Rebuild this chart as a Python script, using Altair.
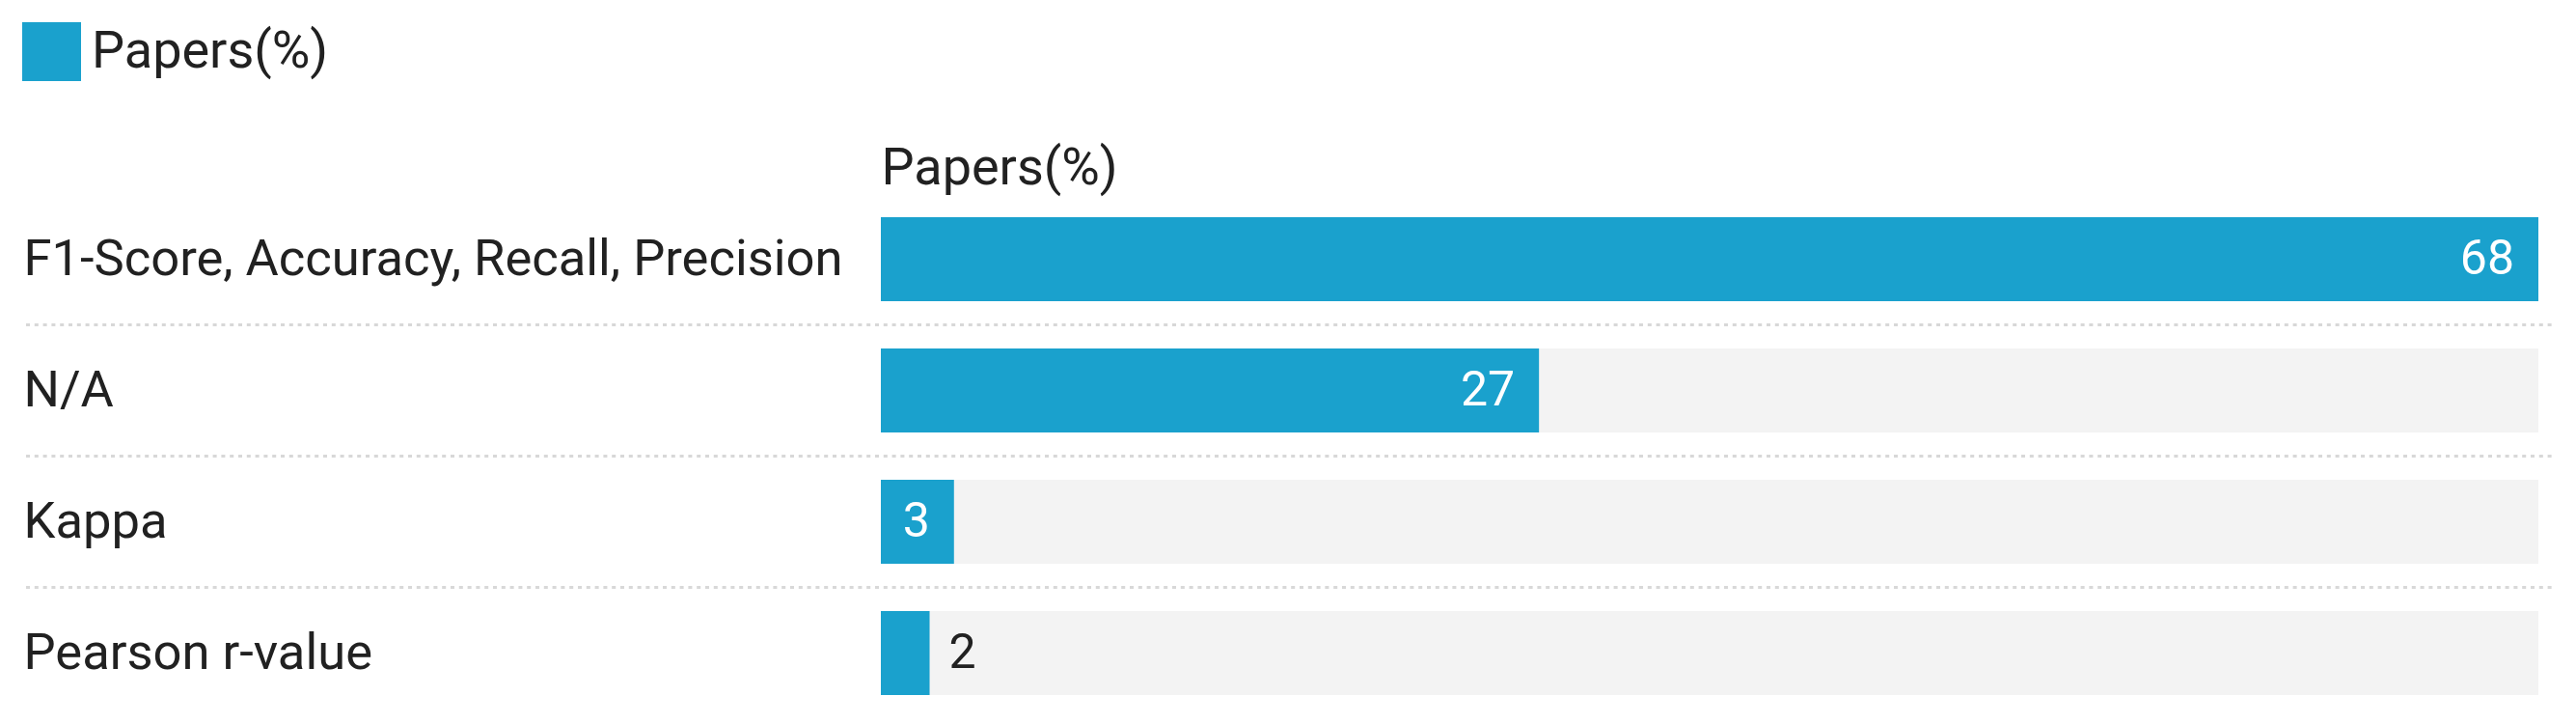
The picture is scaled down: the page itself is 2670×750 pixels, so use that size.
import altair as alt
import pandas as pd

categories = ["F1-Score, Accuracy, Recall, Precision", "N/A", "Kappa", "Pearson r-value"]
values = [68, 27, 3, 2]
series_name = "Papers(%)"

BLUE = "#1aa1cd"
GREY_BG = "#f3f3f3"
TEXT = "#212121"
FONT = "Roboto"

df = pd.DataFrame({"category": categories, "value": values, "series": [series_name] * len(categories)})
sep_df = pd.DataFrame({"category": categories[1:]})

W, H = 1718, 544

y_scale = alt.Scale(domain=categories, paddingInner=0, paddingOuter=0)
x_scale = alt.Scale(domain=[0, max(values)], nice=False, zero=True)

base = alt.Chart(df)

bg = base.transform_joinaggregate(full="max(value)").mark_bar(
    color=GREY_BG, height=alt.RelativeBandSize(0.64)
).encode(
    x=alt.X("full:Q", scale=x_scale,
            axis=alt.Axis(orient="top", title=series_name, labels=False, ticks=False,
                          domain=False, grid=False, titleX=0, titleY=-10.5,
                          titleAlign="left", titleAnchor="start", titleBaseline="alphabetic",
                          titleFont=FONT, titleFontSize=54, titleFontWeight="normal",
                          titleColor=TEXT)),
    y=alt.Y("category:N", scale=y_scale, sort=categories,
            axis=alt.Axis(title=None, orient="left", labelAlign="left", labelPadding=889,
                          ticks=False, tickSize=0, domain=False, grid=False,
                          labelFont=FONT, labelFontSize=52.5, labelColor=TEXT,
                          labelLimit=1000, labelBaseline="middle")),
)

bars = base.mark_bar(height=alt.RelativeBandSize(0.64)).encode(
    x=alt.X("value:Q", scale=x_scale),
    y=alt.Y("category:N", scale=y_scale, sort=categories),
    color=alt.Color("series:N",
                    scale=alt.Scale(domain=[series_name], range=[BLUE]),
                    legend=alt.Legend(orient="none", legendX=-890, legendY=-177.5,
                                      title=None, symbolType="square", symbolSize=3721,
                                      symbolStrokeWidth=0, symbolOpacity=1,
                                      labelFont=FONT, labelFontSize=54, labelColor=TEXT,
                                      labelOffset=11, labelLimit=1000, padding=0)),
)

inside = base.transform_filter("datum.value >= 3").mark_text(
    align="right", baseline="middle", dx=-25, color="white", font=FONT, fontSize=50
).encode(
    x=alt.X("value:Q", scale=x_scale),
    y=alt.Y("category:N", scale=y_scale, sort=categories),
    text=alt.Text("value:Q"),
)

outside = base.transform_filter("datum.value < 3").mark_text(
    align="left", baseline="middle", dx=20, color=TEXT, font=FONT, fontSize=50
).encode(
    x=alt.X("value:Q", scale=x_scale),
    y=alt.Y("category:N", scale=y_scale, sort=categories),
    text=alt.Text("value:Q"),
)

seps = alt.Chart(sep_df).mark_rule(
    color="#d8d8d8", strokeWidth=3, strokeDash=[4, 4.8]
).encode(
    y=alt.Y("category:N", scale=y_scale, sort=categories, bandPosition=0),
    x=alt.value(-886),
    x2=alt.value(1735),
)

chart = alt.layer(seps, bg, bars, inside, outside).properties(
    width=W, height=H,
    background="white",
    autosize=alt.AutoSizeParams(type="none"),
    padding={"left": 905, "top": 192.5, "right": 30, "bottom": 0},
).configure_view(stroke=None)

chart.save("out.html", embed_options={"renderer": "svg", "actions": False})
